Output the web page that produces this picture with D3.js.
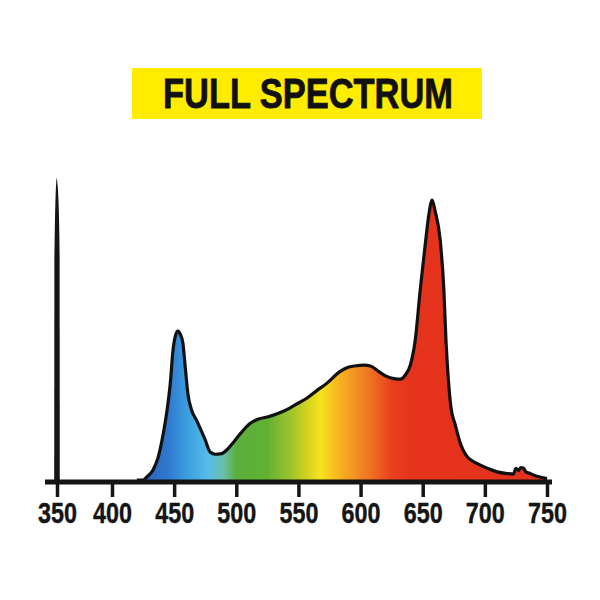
<!DOCTYPE html>
<html>
<head>
<meta charset="utf-8">
<script src="https://cdn.jsdelivr.net/npm/d3@7"></script>
<style>
  html, body { margin: 0; padding: 0; background: #ffffff; }
  svg { display: block; }
</style>
</head>
<body>
<svg id="chart" width="600" height="600"></svg>
<script>
// ---------- DATA ----------
const titleText = "FULL SPECTRUM";
const tickValues = [350, 400, 450, 500, 550, 600, 650, 700, 750];
const wavelengths = [420, 425, 428, 433, 437, 441, 444, 447, 449, 451, 453, 455, 457, 459, 461, 464, 468, 475, 479, 483, 488, 493, 498, 503, 511, 518, 525, 535, 543, 550, 557, 565, 573, 583, 590, 595, 603, 608, 615, 621, 627, 632, 636, 640, 644, 648, 652.5, 655, 657.6, 660, 664, 667, 668.7, 670.3, 672.7, 676, 680, 686, 690, 696, 703, 710, 718, 723, 725, 727, 729, 731, 733, 736, 739, 745, 750];
const intensity   = [0, 0, 1.1, 3.6, 7.9, 16, 24, 35, 46, 51.5, 53.2, 52, 49, 40, 31, 25, 21.4, 14.3, 10, 9.2, 9.4, 11, 13.6, 16.4, 20.2, 21.8, 22.5, 24, 25.7, 27.5, 29.3, 32, 34.6, 38.6, 40.3, 40.7, 41, 40.7, 38.6, 37, 36.2, 36, 37.5, 41, 50, 68, 86, 95, 100, 96, 86, 68, 50, 38, 26, 20, 13.5, 8.2, 6.8, 5.4, 4, 2.9, 2.3, 2.1, 4.2, 3.4, 4.4, 4.3, 2.9, 2.4, 1.8, 1.0, 0.5];
const uvSpikeWavelength = 350;
const uvSpikeIntensity = 108;

// gradient (style) : wavelength -> colour
const spectrumStops = [
  [425, "#2a5fbf"], [445, "#2f78cf"], [460, "#3a9ddf"], [478, "#57bde8"],
  [490, "#6bbfa8"], [500, "#5aae3c"], [525, "#62b133"], [545, "#a2c52a"],
  [558, "#d6d420"], [568, "#f6e31e"], [580, "#f7bb1f"], [595, "#f29322"],
  [610, "#ee6c20"], [625, "#e8401e"], [640, "#e5331c"], [750, "#e3311c"]
];

// ---------- SCALES ----------
const svg = d3.select("#chart");
const x = d3.scaleLinear().domain([350, 400, 750]).range([57, 112, 547]);
const y = d3.scaleLinear().domain([0, 100]).range([480, 200]);

const data = wavelengths.map((w, i) => ({ w, v: intensity[i] }));

// ---------- TITLE ----------
svg.append("rect")
  .attr("x", 132).attr("y", 68).attr("width", 350).attr("height", 51)
  .attr("fill", "#ffec00");
svg.append("text")
  .attr("x", 308).attr("y", 108)
  .attr("text-anchor", "middle")
  .attr("font-family", "'Liberation Sans', Arial, sans-serif")
  .attr("font-weight", "bold")
  .attr("font-size", 42)
  .attr("textLength", 290)
  .attr("lengthAdjust", "spacingAndGlyphs")
  .attr("fill", "#111")
  .attr("stroke", "#111")
  .attr("stroke-width", 0.8)
  .text(titleText);

// ---------- GRADIENT ----------
const defs = svg.append("defs");
const grad = defs.append("linearGradient")
  .attr("id", "spec")
  .attr("gradientUnits", "userSpaceOnUse")
  .attr("x1", x(350)).attr("x2", x(750)).attr("y1", 0).attr("y2", 0);
const x0 = x(350), x1 = x(750);
spectrumStops.forEach(([w, c]) => {
  grad.append("stop")
    .attr("offset", ((x(w) - x0) / (x1 - x0)))
    .attr("stop-color", c);
});

// ---------- AREA ----------
const area = d3.area()
  .x(d => x(d.w)).y0(y(0)).y1(d => y(d.v))
  .curve(d3.curveMonotoneX);
const line = d3.line()
  .x(d => x(d.w)).y(d => y(d.v))
  .curve(d3.curveMonotoneX);

svg.append("path").datum(data)
  .attr("d", area)
  .attr("fill", "url(#spec)");
svg.append("path").datum(data)
  .attr("d", line)
  .attr("fill", "none")
  .attr("stroke", "#111")
  .attr("stroke-width", 3.2)
  .attr("stroke-linejoin", "round");

// ---------- UV spike (thin tapered line at 350) ----------
const sx = x(uvSpikeWavelength), sTop = y(uvSpikeIntensity), sBot = y(0) + 2;
const sMid = sTop + 80;
svg.append("path")
  .attr("d", `M${sx - 2.8},${sBot} L${sx - 2.6},${sMid} Q${sx - 1.8},${sTop + 12} ${sx - 0.4},${sTop} Q${sx + 2},${sTop + 10} ${sx + 2.6},${sMid} L${sx + 2.8},${sBot} Z`)
  .attr("fill", "#151515");

// ---------- X AXIS ----------
const axisY = y(0) + 2;
const axis = d3.axisBottom(x)
  .tickValues(tickValues)
  .tickSize(15)
  .tickPadding(0)
  .tickFormat(d3.format("d"));
const gAxis = svg.append("g").attr("transform", `translate(0,${axisY})`).call(axis);
gAxis.select(".domain").remove();
gAxis.selectAll(".tick line")
  .attr("stroke", "#151515")
  .attr("stroke-width", 3.5);
gAxis.selectAll(".tick text")
  .attr("y", 41)
  .attr("dy", 0)
  .attr("fill", "#151515")
  .attr("stroke", "#151515")
  .attr("stroke-width", 0.4)
  .attr("font-family", "'Liberation Sans', Arial, sans-serif")
  .attr("font-weight", "bold")
  .attr("font-size", 29)
  .attr("textLength", 39)
  .attr("lengthAdjust", "spacingAndGlyphs");
svg.append("line")
  .attr("x1", x(350) - 12).attr("x2", x(750) + 5)
  .attr("y1", axisY).attr("y2", axisY)
  .attr("stroke", "#151515")
  .attr("stroke-width", 5);
</script>
</body>
</html>
